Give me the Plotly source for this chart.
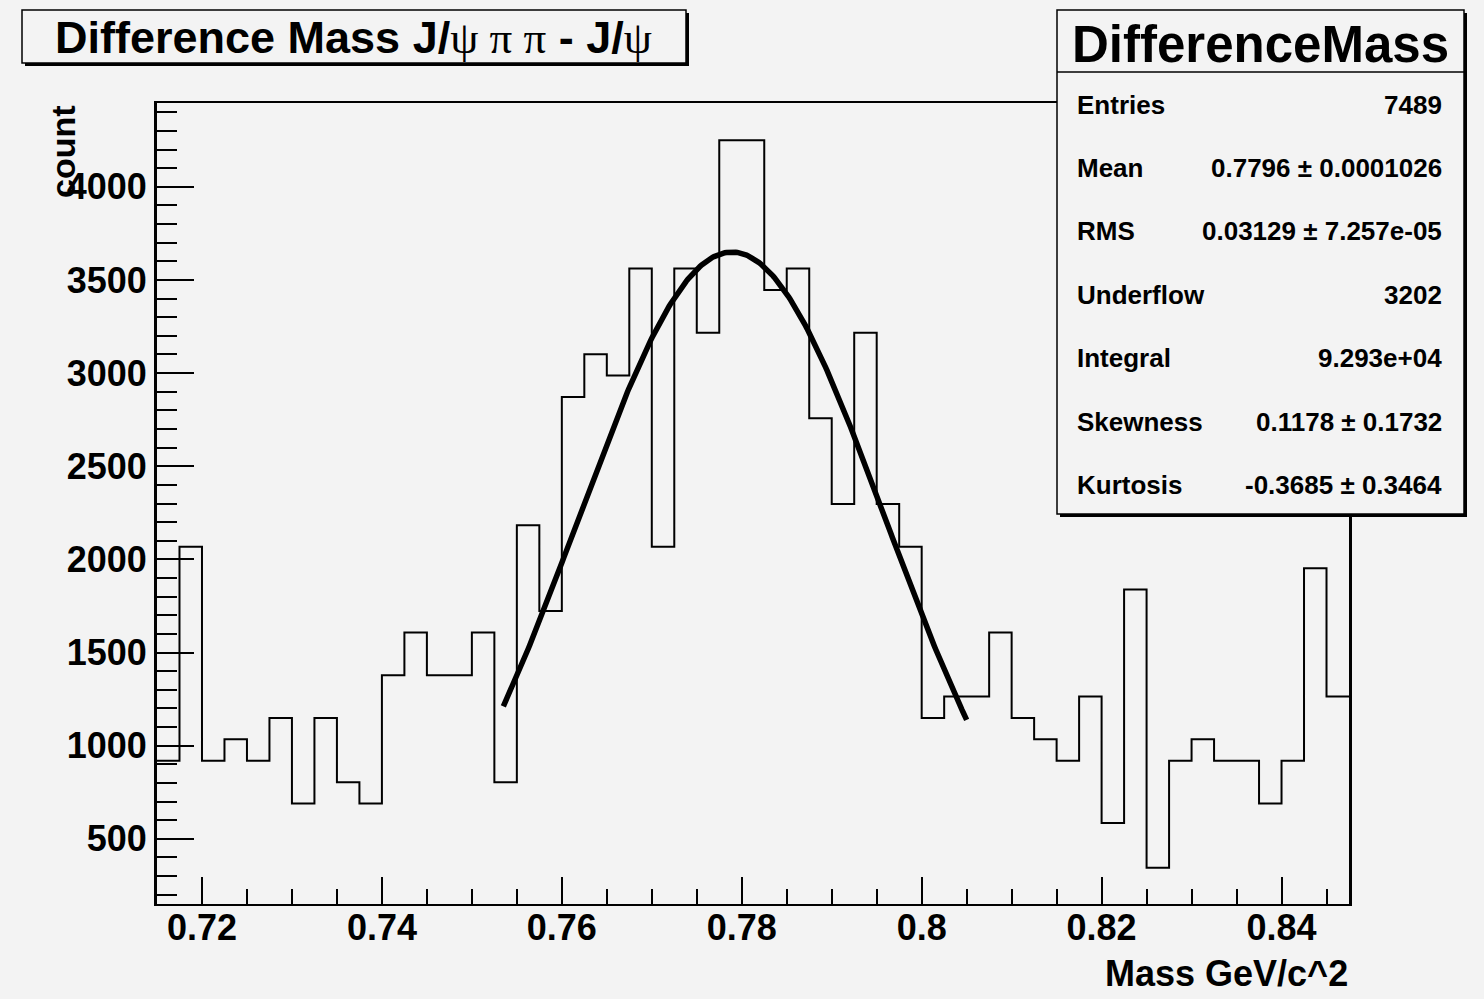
import numpy as np
import plotly.graph_objects as go

# ---------------- data ----------------
x_min = 0.715
bin_width = 0.0025
counts = [919, 2068, 919, 1034, 919, 1149, 689, 1149, 804, 689,
          1378, 1608, 1378, 1378, 1608, 804, 2183, 1723, 2872, 3101,
          2987, 3561, 2068, 3561, 3216, 4250, 4250, 3446, 3561, 2757,
          2297, 3216, 2297, 2068, 1149, 1264, 1264, 1608, 1149, 1034,
          919, 1264, 585, 1838, 345, 919, 1034, 919, 919, 689,
          919, 1953, 1264]
x_tick_vals = [0.72, 0.74, 0.76, 0.78, 0.80, 0.82, 0.84]
y_tick_vals = [500, 1000, 1500, 2000, 2500, 3000, 3500, 4000]

# Gaussian fit parameters
fit_amp = 3650.0
fit_mean = 0.7789
fit_sigma = 0.0171
fit_lo, fit_hi = 0.7535, 0.805

stats_labels = ["Entries", "Mean", "RMS", "Underflow", "Integral", "Skewness", "Kurtosis"]
stats_values = ["7489", "0.7796 ± 0.0001026", "0.03129 ± 7.257e-05", "3202",
                "9.293e+04", "0.1178 ± 0.1732", "-0.3685 ± 0.3464"]

# ---------------- geometry helpers ----------------
W, H = 1484, 999
L, R, T, B = 157, 1349, 103, 904
ML, MR, MT, MB = L, W - R, T, H - B

def px(x):
    return (x - L) / (R - L)

def py(y):
    return (B - y) / (B - T)

BG = "#f3f3f3"
FONT = "Liberation Sans, Arial, Helvetica, sans-serif"
SERIF = "Liberation Serif, Times New Roman, serif"

n = len(counts)
edges = x_min + bin_width * np.arange(n + 1)
step_x = list(edges)
step_y = list(counts) + [counts[-1]]

fig = go.Figure()
fig.add_trace(go.Scatter(x=step_x, y=step_y, mode="lines", line_shape="hv",
                         line=dict(color="black", width=2), hoverinfo="skip",
                         showlegend=False))

fx = np.linspace(fit_lo, fit_hi, 300)
fy = fit_amp * np.exp(-0.5 * ((fx - fit_mean) / fit_sigma) ** 2)
fig.add_trace(go.Scatter(x=fx, y=fy, mode="lines",
                         line=dict(color="black", width=5.5), hoverinfo="skip",
                         showlegend=False))

x_range = [x_min, edges[-1]]
fig.update_xaxes(range=x_range, tickvals=x_tick_vals,
                 ticktext=[f"{v:g}" for v in x_tick_vals],
                 ticks="inside", ticklen=27, tickwidth=2, tickcolor="black",
                 ticklabelstandoff=-9,
                 showline=True, linecolor="black", linewidth=2, mirror=True,
                 showgrid=False, zeroline=False,
                 minor=dict(ticks="inside", ticklen=15, tickwidth=2, tickcolor="black",
                            dtick=0.005, tick0=0.72, showgrid=False),
                 tickfont=dict(family=FONT, size=36, color="black", weight="bold"))
fig.update_yaxes(range=[150, 4450], tickvals=y_tick_vals,
                 ticks="inside", ticklen=37, tickwidth=2, tickcolor="black",
                 showline=True, linecolor="black", linewidth=3, mirror=True,
                 showgrid=False, zeroline=False,
                 minor=dict(ticks="inside", ticklen=20, tickwidth=2, tickcolor="black",
                            dtick=100, tick0=0, showgrid=False),
                 tickfont=dict(family=FONT, size=36, color="black", weight="bold"))

shapes = []
annotations = []

# title box with shadow
shapes.append(dict(type="rect", xref="paper", yref="paper", layer="above",
                   x0=px(25), x1=px(689), y0=py(66), y1=py(13),
                   fillcolor="black", line=dict(width=0)))
shapes.append(dict(type="rect", xref="paper", yref="paper", layer="above",
                   x0=px(22), x1=px(686), y0=py(63), y1=py(10),
                   fillcolor=BG, line=dict(color="black", width=1.5)))
title_txt = ("<b>Difference Mass J/</b><span style='font-family:" + SERIF + "'>ψ π π</span>"
             "<b> - J/</b><span style='font-family:" + SERIF + "'>ψ</span>")
annotations.append(dict(xref="paper", yref="paper", x=px(353), y=py(37),
                        xanchor="center", yanchor="middle", showarrow=False,
                        text=title_txt, font=dict(family=FONT, size=45, color="black")))

# stats box with shadow
shapes.append(dict(type="rect", xref="paper", yref="paper", layer="above",
                   x0=px(1060), x1=px(1467), y0=py(517), y1=py(13),
                   fillcolor="black", line=dict(width=0)))
shapes.append(dict(type="rect", xref="paper", yref="paper", layer="above",
                   x0=px(1057), x1=px(1464), y0=py(514), y1=py(10),
                   fillcolor=BG, line=dict(color="black", width=1.5)))
shapes.append(dict(type="line", xref="paper", yref="paper", layer="above",
                   x0=px(1057), x1=px(1464), y0=py(72), y1=py(72),
                   line=dict(color="black", width=1.5)))
annotations.append(dict(xref="paper", yref="paper", x=px(1260), y=py(44),
                        xanchor="center", yanchor="middle", showarrow=False,
                        text="<b>DifferenceMass</b>",
                        font=dict(family=FONT, size=51, color="black")))
row_y = [105, 168, 231, 295, 358, 422, 485]
for lab, val, yy in zip(stats_labels, stats_values, row_y):
    annotations.append(dict(xref="paper", yref="paper", x=px(1075), y=py(yy),
                            xanchor="left", yanchor="middle", showarrow=False,
                            text=f"<b>{lab}</b>",
                            font=dict(family=FONT, size=26, color="black")))
    annotations.append(dict(xref="paper", yref="paper", x=px(1444), y=py(yy),
                            xanchor="right", yanchor="middle", showarrow=False,
                            text=f"<b>{val}</b>",
                            font=dict(family=FONT, size=26, color="black")))

# axis titles
annotations.append(dict(xref="paper", yref="paper", x=px(1350), y=py(973),
                        xanchor="right", yanchor="middle", showarrow=False,
                        text="<b>Mass GeV/c^2</b>",
                        font=dict(family=FONT, size=36, color="black")))
annotations.append(dict(xref="paper", yref="paper", x=px(63), y=py(152),
                        xanchor="center", yanchor="middle", showarrow=False,
                        textangle=-90, text="<b>count</b>",
                        font=dict(family=FONT, size=34, color="black")))

fig.update_layout(width=W, height=H, margin=dict(l=ML, r=MR, t=MT, b=MB, pad=0),
                  paper_bgcolor=BG, plot_bgcolor=BG, shapes=shapes,
                  annotations=annotations, showlegend=False)

fig.write_html("out.html", config={"displayModeBar": False})
